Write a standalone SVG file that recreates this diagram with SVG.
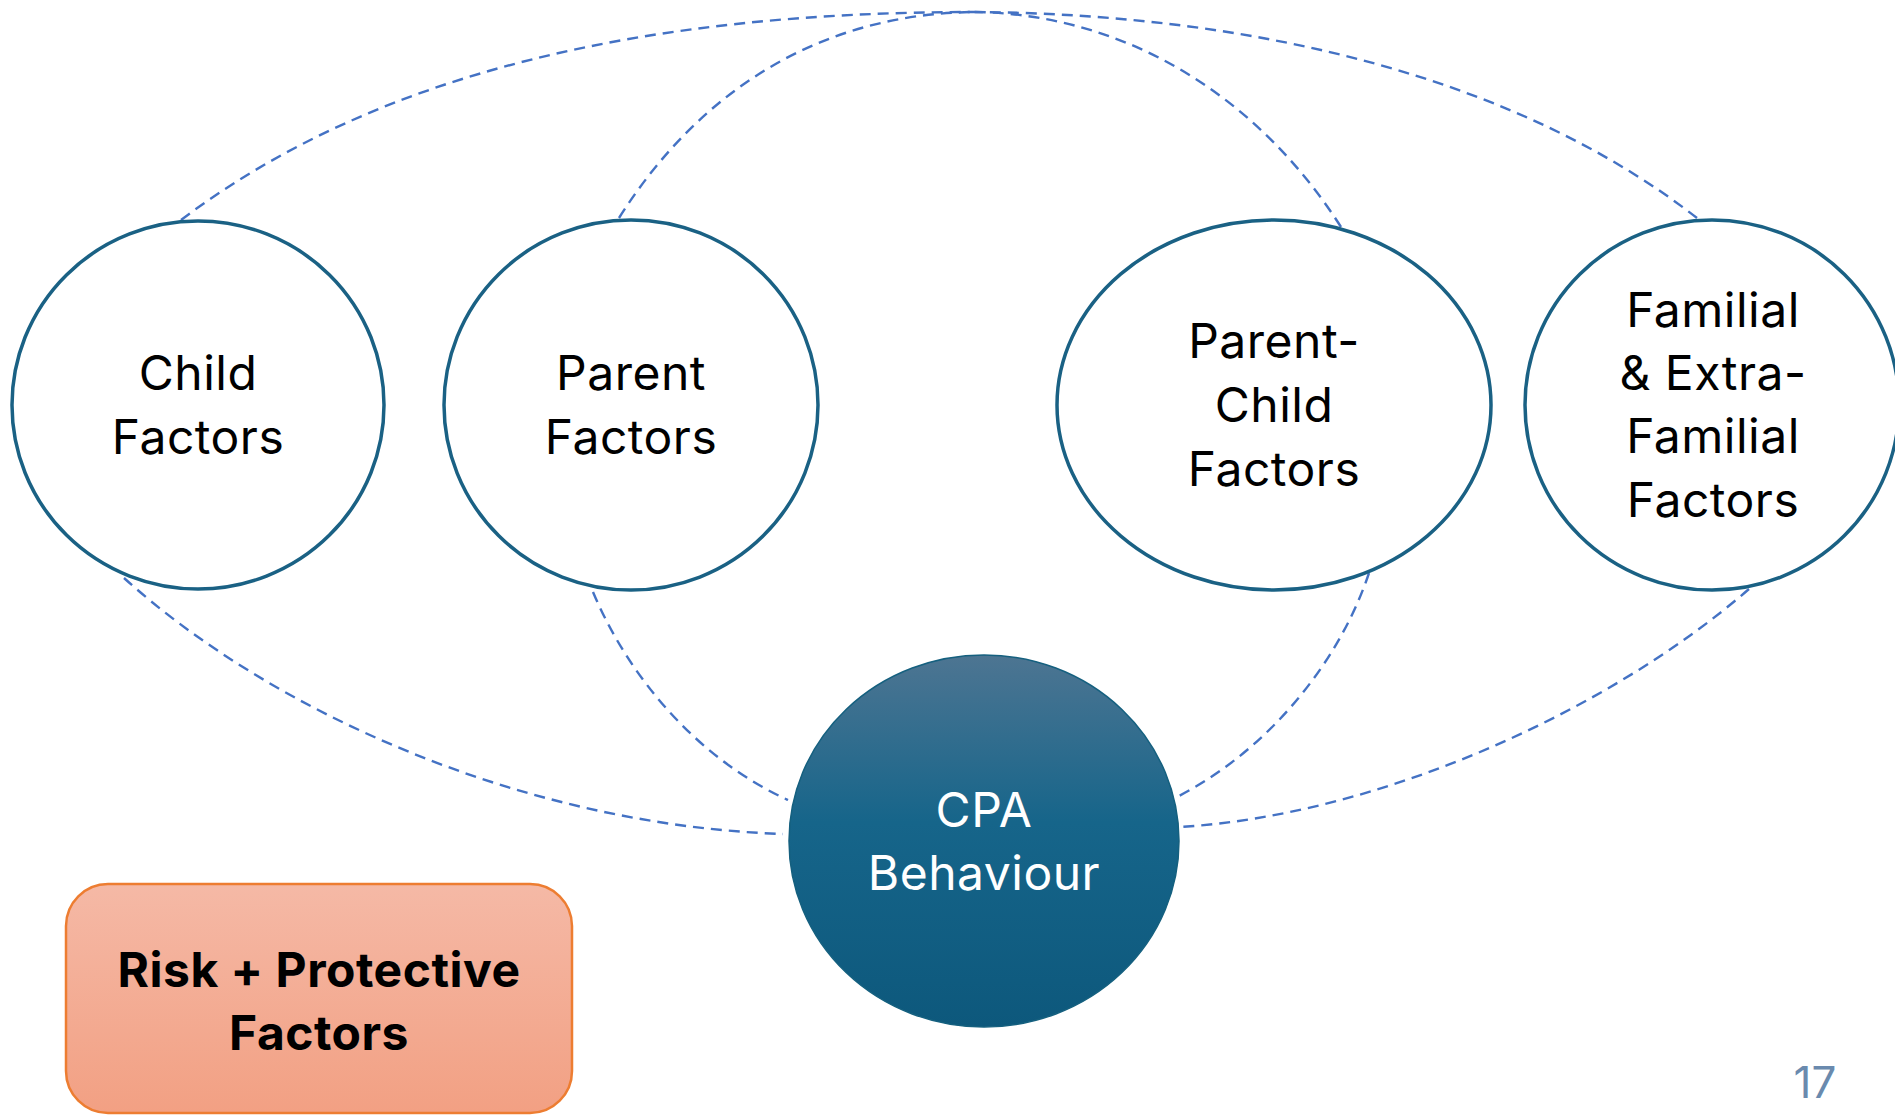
<svg xmlns="http://www.w3.org/2000/svg" width="1895" height="1115" viewBox="0 0 1895 1115">
<style>
.conn{fill:none;stroke:#4472c4;stroke-width:2.4;stroke-dasharray:11 7}
.node{fill:#ffffff;stroke:#1a6184;stroke-width:3.5}
.lbl{font-family:Inter,"Noto Sans","Liberation Sans",sans-serif;font-size:48px;letter-spacing:0.5px;fill:#000;text-anchor:middle}
.wlbl{font-family:Inter,"Noto Sans","Liberation Sans",sans-serif;font-size:48px;letter-spacing:0.5px;fill:#ffffff;text-anchor:middle}
.blbl{font-family:Inter,"Noto Sans","Liberation Sans",sans-serif;font-size:48px;letter-spacing:0.5px;font-weight:bold;fill:#000;text-anchor:middle}
</style>
<defs>
<linearGradient id="cpaGrad" x1="0" y1="0" x2="0" y2="1">
<stop offset="0" stop-color="#4d7592"/>
<stop offset="0.45" stop-color="#16658a"/>
<stop offset="1" stop-color="#0d587c"/>
</linearGradient>
<linearGradient id="boxGrad" x1="0" y1="0" x2="0" y2="1">
<stop offset="0" stop-color="#f5b9a6"/>
<stop offset="1" stop-color="#f2a083"/>
</linearGradient>
</defs>
<rect width="1895" height="1115" fill="#ffffff"/>
<g id="connectors">
<path class="conn" d="M181,220 C380,70 650,12 974,12"/>
<path class="conn" d="M619,218 C700,90 820,14 974,12"/>
<path class="conn" d="M1341,227 C1260,100 1130,14 974,12"/>
<path class="conn" d="M1697,218 C1520,80 1260,14 974,12"/>
<path class="conn" d="M124,578 C270,710 520,825 783,834"/>
<path class="conn" d="M593,592 C630,680 700,760 788,800"/>
<path class="conn" d="M1369,573 C1340,660 1270,750 1175,798"/>
<path class="conn" d="M1749,589 C1610,710 1380,815 1180,827"/>
</g>
<g id="child">
<ellipse class="node" cx="198" cy="405" rx="186" ry="184"/>
<text class="lbl" x="198" y="390">Child</text>
<text class="lbl" x="198" y="454">Factors</text>
</g>
<g id="parent">
<ellipse class="node" cx="631" cy="405" rx="187" ry="185"/>
<text class="lbl" x="631" y="390">Parent</text>
<text class="lbl" x="631" y="454">Factors</text>
</g>
<g id="parent-child">
<ellipse class="node" cx="1274" cy="405" rx="217" ry="185"/>
<text class="lbl" x="1274" y="358">Parent-</text>
<text class="lbl" x="1274" y="422">Child</text>
<text class="lbl" x="1274" y="486">Factors</text>
</g>
<g id="familial">
<ellipse class="node" cx="1712" cy="405" rx="187" ry="185"/>
<text class="lbl" x="1713" y="327">Familial</text>
<text class="lbl" x="1713" y="390">&amp; Extra-</text>
<text class="lbl" x="1713" y="453">Familial</text>
<text class="lbl" x="1713" y="517">Factors</text>
</g>
<g id="cpa">
<ellipse cx="984" cy="841" rx="195" ry="186" fill="url(#cpaGrad)" stroke="#15607f" stroke-width="1.5"/>
<text class="wlbl" x="984" y="827">CPA</text>
<text class="wlbl" x="984" y="890">Behaviour</text>
</g>
<g id="risk-box">
<rect x="66" y="884" width="506" height="229" rx="42" ry="42" fill="url(#boxGrad)" stroke="#ed7d31" stroke-width="2.5"/>
<text class="blbl" x="319" y="987">Risk + Protective</text>
<text class="blbl" x="319" y="1050">Factors</text>
</g>
<text id="page-number" x="1815" y="1098" font-family="Inter,'Noto Sans','Liberation Sans',sans-serif" font-size="44" fill="#6a8aae" text-anchor="middle">17</text>
</svg>
